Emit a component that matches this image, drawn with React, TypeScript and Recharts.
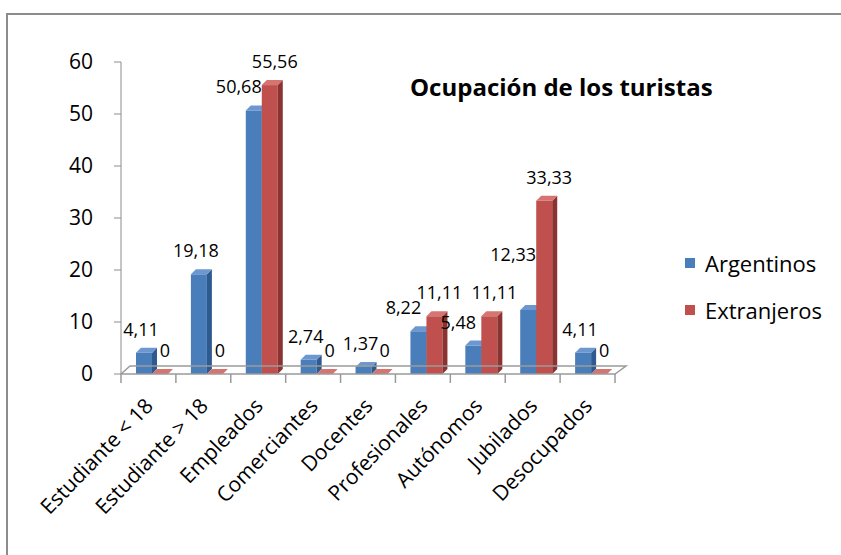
import type { ReactElement } from "react";
import { BarChart, Bar, XAxis, YAxis, ReferenceLine } from "recharts";

// Datos del grafico
const categories = [
  "Estudiante < 18",
  "Estudiante > 18",
  "Empleados",
  "Comerciantes",
  "Docentes",
  "Profesionales",
  "Autónomos",
  "Jubilados",
  "Desocupados",
];
const argentinos = [4.11, 19.18, 50.68, 2.74, 1.37, 8.22, 5.48, 12.33, 4.11];
const extranjeros = [0, 0, 55.56, 0, 0, 11.11, 11.11, 33.33, 0];
const yTicks = [0, 10, 20, 30, 40, 50, 60];

const seriesNames = ["Argentinos", "Extranjeros"];
const colors = {
  Argentinos: { front: "#4a7ebb", side: "#2f5a8f", top: "#6d98cf" },
  Extranjeros: { front: "#c0504d", side: "#8a3331", top: "#d57471" },
};

const data = categories.map((name, i) => ({
  name,
  Argentinos: argentinos[i],
  Extranjeros: extranjeros[i],
}));

const FONT = "'Open Sans', Lato, sans-serif";
const DEPTH = 5;
const SHIFT = 4;

const fmt = (v: number) => (v === 0 ? "0" : v.toFixed(2).replace(".", ","));

// Columna 3D: frente, lado derecho y tapa
function Bar3D(props: any, key: "Argentinos" | "Extranjeros") {
  const { x, y, width, height } = props;
  if (x == null || y == null) return <g />;
  const c = colors[key];
  const x0 = x + SHIFT;
  const h = Math.max(0, height);
  const bottom = y + h;
  return (
    <g>
      <rect x={x0} y={y} width={width} height={h} fill={c.front} />
      <polygon
        points={`${x0 + width},${y} ${x0 + width + DEPTH},${y - DEPTH} ${x0 + width + DEPTH},${bottom - DEPTH} ${x0 + width},${bottom}`}
        fill={c.side}
      />
      <polygon
        points={`${x0},${y} ${x0 + DEPTH},${y - DEPTH} ${x0 + width + DEPTH},${y - DEPTH} ${x0 + width},${y}`}
        fill={c.top}
      />
    </g>
  );
}

// Etiquetas de valores: si la columna vecina es mas alta, la etiqueta se corre a la izquierda
function makeLabel(key: "Argentinos" | "Extranjeros") {
  return (props: any) => {
    const { x, y, width, height, index, value } = props;
    if (x == null) return <g />;
    let cx = x + SHIFT + width / 2;
    let ty = y - 17;
    if (key === "Argentinos") {
      const other = extranjeros[index];
      if (other > value) {
        cx -= 15;
        const bottom = y + height;
        const otherTop = bottom - (height * other) / Math.max(value, 0.0001);
        ty = Math.min(ty, (y + otherTop) / 2 + 6);
      } else {
        cx -= 3;
      }
    } else {
      cx += 5;
    }
    return (
      <text x={cx} y={ty} textAnchor="middle" fontFamily={FONT} fontSize={18} fill="#000">
        {fmt(value)}
      </text>
    );
  };
}

// Piso 3D y marcas entre categorias
function Floor(props: any) {
  const { x1, x2, y1 } = props;
  const n = categories.length;
  const step = (x2 - x1) / n;
  const d = 9;
  const marks = Array.from({ length: n + 1 }, (_, i) => x1 + i * step);
  return (
    <g stroke="#9a9a9a" strokeWidth={1.5} fill="none">
      <polyline points={`${x1},${y1} ${x1 + d},${y1 - d + 1} ${x2 + d + 2},${y1 - d + 1} ${x2},${y1} ${x1},${y1}`} />
      {marks.map((m, i) => (
        <line key={i} x1={m} y1={y1} x2={m} y2={y1 + 9} />
      ))}
    </g>
  );
}

function CategoryTick(props: any) {
  const { x, y, payload } = props;
  return (
    <g transform={`translate(${x + 6},${y + 25})`}>
      <text transform="rotate(-46)" textAnchor="end" fontFamily={FONT} fontSize={21} fill="#000">
        {payload.value}
      </text>
    </g>
  );
}

function LegendBox(): ReactElement {
  return (
    <div style={{ position: "absolute", left: 685, top: 239, fontFamily: FONT, fontSize: 22, color: "#000" }}>
      {seriesNames.map((s) => (
        <div key={s} style={{ display: "flex", alignItems: "center", height: 47 }}>
          <span
            style={{
              width: 10,
              height: 10,
              background: colors[s as "Argentinos"].front,
              marginRight: 10,
              display: "inline-block",
            }}
          />
          {s}
        </div>
      ))}
    </div>
  );
}

export default function App(): ReactElement {
  return (
    <div style={{ position: "relative", width: 841, height: 555, overflow: "hidden", background: "#fff" }}>
      <style>{`body{margin:0}`}</style>
      <div
        style={{
          position: "absolute",
          left: 6,
          top: 13,
          width: 900,
          height: 600,
          border: "2px solid #8c8c8c",
          boxSizing: "border-box",
        }}
      />
      <div
        style={{
          position: "absolute",
          left: 410,
          top: 75,
          fontFamily: FONT,
          fontWeight: 700,
          fontSize: 24,
          lineHeight: "24px",
          whiteSpace: "nowrap",
        }}
      >
        Ocupación de los turistas
      </div>
      <div style={{ position: "absolute", left: 0, top: 0 }}>
        <BarChart
          width={841}
          height={555}
          data={data}
          margin={{ top: 62, right: 226, bottom: 61, left: 61 }}
          barSize={16}
          barGap={0}
        >
          <XAxis
            dataKey="name"
            axisLine={false}
            tickLine={false}
            interval={0}
            height={120}
            tick={<CategoryTick />}
          />
          <YAxis
            width={60}
            domain={[0, 60]}
            ticks={yTicks}
            stroke="#8c8c8c"
            tickSize={7}
            tickMargin={21}
            tick={{ fontFamily: FONT, fontSize: 21, fill: "#000" }}
          />
          <ReferenceLine y={0} ifOverflow="visible" shape={<Floor />} />
          <Bar
            dataKey="Argentinos"
            isAnimationActive={false}
            shape={(p: any) => Bar3D(p, "Argentinos")}
            label={makeLabel("Argentinos")}
          />
          <Bar
            dataKey="Extranjeros"
            isAnimationActive={false}
            shape={(p: any) => Bar3D(p, "Extranjeros")}
            label={makeLabel("Extranjeros")}
          />
        </BarChart>
      </div>
      <LegendBox />
    </div>
  );
}
